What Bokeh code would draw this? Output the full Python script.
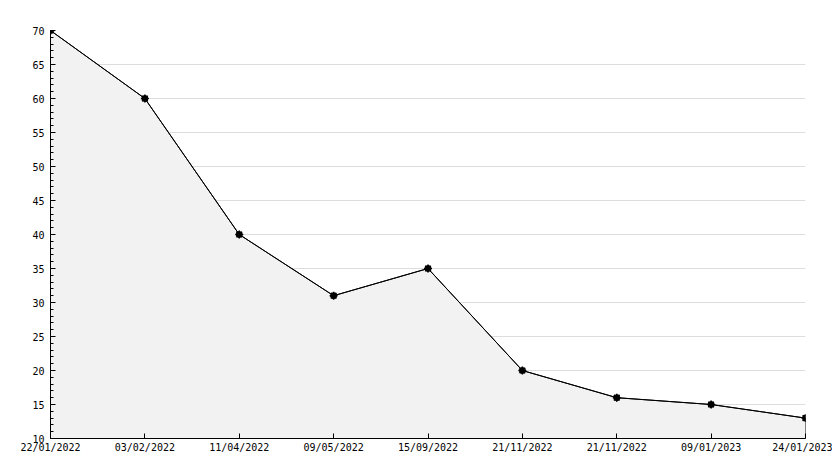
from bokeh.plotting import figure
from bokeh.models import FixedTicker, Range1d
from bokeh.embed import file_html
from bokeh.resources import INLINE

dates = ["22/01/2022", "03/02/2022", "11/04/2022", "09/05/2022", "15/09/2022",
         "21/11/2022", "21/11/2022", "09/01/2023", "24/01/2023"]
values = [70, 60, 40, 31, 35, 20, 16, 15, 13]
y_min, y_max = 10, 70
y_ticks = list(range(10, 75, 5))

idx = list(range(len(dates)))

p = figure(width=832, height=460, output_backend="svg", toolbar_location=None,
           x_range=Range1d(0, len(dates) - 1), y_range=Range1d(y_min, y_max),
           min_border_left=50, min_border_right=27, min_border_top=30, min_border_bottom=22)
p.outline_line_color = None
p.background_fill_color = "white"

# area
xs = idx + [idx[-1], idx[0]]
ys = values + [y_min, y_min]
p.patch(xs, ys, fill_color="#f2f2f2", line_color="black", line_width=1)
p.line(idx, values, line_color="black", line_width=1)
p.scatter(idx, values, marker="circle", size=6, fill_color="black", line_color="black")
p.scatter(idx, values, marker="asterisk", size=8, line_color="black", line_width=1.5)

p.xaxis.ticker = FixedTicker(ticks=idx)
p.xaxis.major_label_overrides = {i: d for i, d in enumerate(dates)}
p.yaxis.ticker = FixedTicker(ticks=y_ticks, minor_ticks=[y + 1 for y in range(10, 70)])

for ax in (p.xaxis, p.yaxis):
    ax.axis_line_color = "black"
    ax.major_tick_in = 5
    ax.major_tick_out = 0
    ax.major_tick_line_color = "black"
    ax.major_label_text_font = "DejaVu Sans Mono"
    ax.major_label_text_font_size = "10px"
    ax.major_label_text_color = "black"
p.yaxis.minor_tick_in = 3
p.yaxis.minor_tick_out = 0
p.yaxis.minor_tick_line_color = "black"
p.xaxis.minor_tick_line_color = None
p.xaxis.major_label_standoff = 3
p.yaxis.major_label_standoff = 6

p.xgrid.grid_line_color = None
p.ygrid.grid_line_color = "#dddddd"
p.ygrid.grid_line_width = 1

open("out.html", "w").write(file_html(p, INLINE))
